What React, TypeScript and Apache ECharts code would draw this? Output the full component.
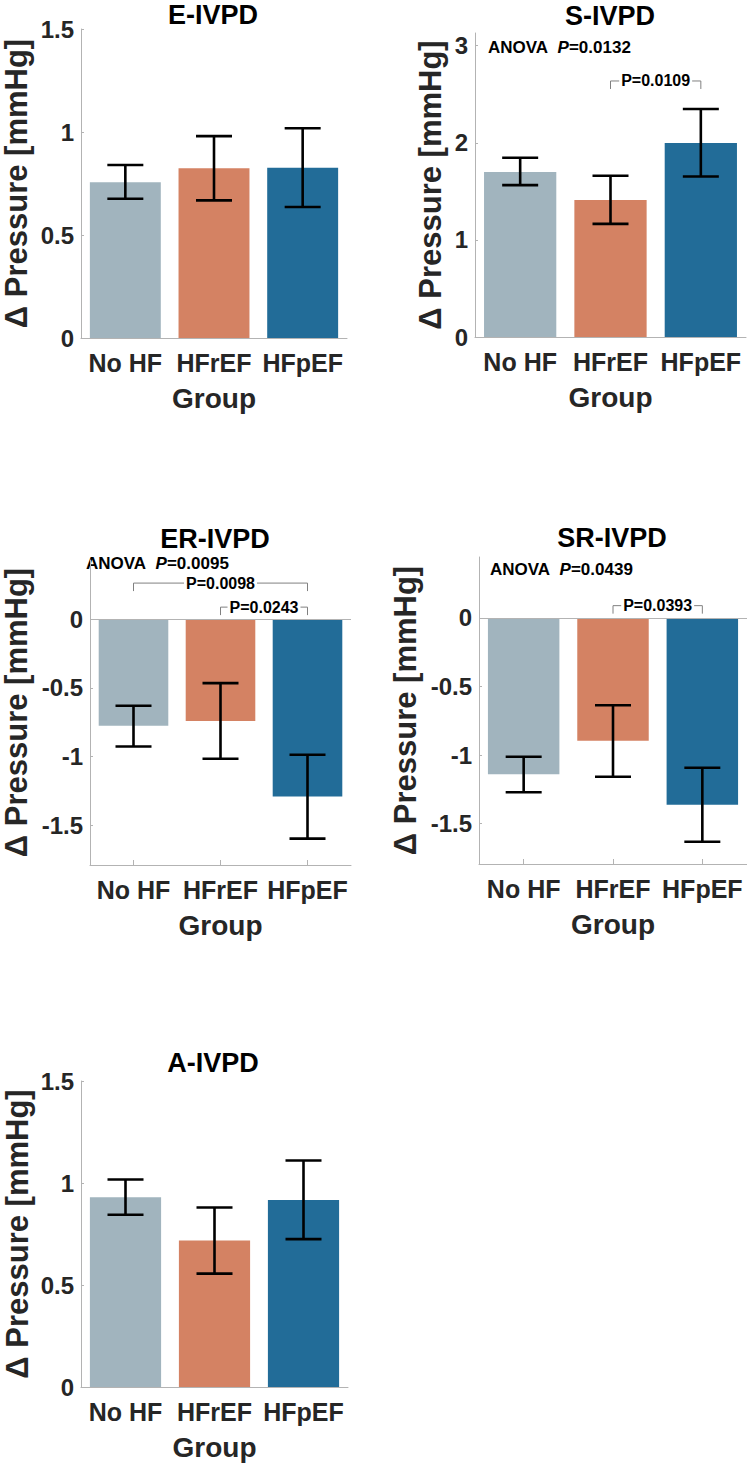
import React, { useEffect, useRef } from "react";
import * as echarts from "echarts";

const FONT = '"Liberation Sans", Arial, Helvetica, sans-serif';

const CATEGORIES = ["No HF", "HFrEF", "HFpEF"];
const COLORS = ["#a1b4be", "#d48263", "#226c98"];

// E-IVPD
const E_MEAN = [0.756, 0.824, 0.827];
const E_LOW = [0.676, 0.668, 0.636];
const E_HIGH = [0.84, 0.98, 1.018];
const E_TICKS = [0, 0.5, 1, 1.5];
const E_RANGE = [0, 1.5];

// S-IVPD
const S_MEAN = [1.7, 1.41, 1.997];
const S_LOW = [1.564, 1.165, 1.653];
const S_HIGH = [1.845, 1.66, 2.347];
const S_TICKS = [0, 1, 2, 3];
const S_RANGE = [0, 3.13];
const S_BRACKETS = [[1, 2, 2.636]];
const S_BRACKET_LABELS = ["P=0.0109"];

// ER-IVPD
const ER_MEAN = [-0.777, -0.741, -1.292];
const ER_LOW = [-0.928, -1.017, -1.598];
const ER_HIGH = [-0.631, -0.466, -0.988];
const ER_TICKS = [-1.5, -1, -0.5, 0];
const ER_RANGE = [-1.79, 0.43];
const ER_BRACKETS = [
  [0, 2, 0.262],
  [1, 2, 0.087],
];
const ER_BRACKET_LABELS = ["P=0.0098", "P=0.0243"];

// SR-IVPD
const SR_MEAN = [-1.141, -0.896, -1.363];
const SR_LOW = [-1.272, -1.158, -1.633];
const SR_HIGH = [-1.012, -0.637, -1.093];
const SR_TICKS = [-1.5, -1, -0.5, 0];
const SR_RANGE = [-1.795, 0.445];
const SR_BRACKETS = [[1, 2, 0.09]];
const SR_BRACKET_LABELS = ["P=0.0393"];

// A-IVPD
const A_MEAN = [0.93, 0.718, 0.917];
const A_LOW = [0.844, 0.556, 0.725];
const A_HIGH = [1.017, 0.88, 1.11];
const A_TICKS = [0, 0.5, 1, 1.5];
const A_RANGE = [0, 1.5];

const ANOVA_LABELS = ["", "0.0132", "0.0095", "0.0439", ""];

const AXIS_GREY = "#b3b3b3";
const TEXT_DARK = "#262626";

type Panel = {
  title: string;
  mean: number[];
  low: number[];
  high: number[];
  ticks: number[];
  range: number[];
  brackets: number[][];
  bracketLabels: string[];
  grid: { left: number; top: number; width: number; height: number };
  titlePos: [number, number];
  anovaPos: [number, number] | null;
  yNameGap: number;
};

const PANELS: Panel[] = [
  {
    title: "E-IVPD", mean: E_MEAN, low: E_LOW, high: E_HIGH, ticks: E_TICKS, range: E_RANGE,
    brackets: [], bracketLabels: [],
    grid: { left: 80, top: 29, width: 267, height: 309 },
    titlePos: [213, 15], anovaPos: null, yNameGap: 49,
  },
  {
    title: "S-IVPD", mean: S_MEAN, low: S_LOW, high: S_HIGH, ticks: S_TICKS, range: S_RANGE,
    brackets: S_BRACKETS, bracketLabels: S_BRACKET_LABELS,
    grid: { left: 475, top: 33, width: 271, height: 304 },
    titlePos: [610, 16], anovaPos: [488, 47], yNameGap: 29,
  },
  {
    title: "ER-IVPD", mean: ER_MEAN, low: ER_LOW, high: ER_HIGH, ticks: ER_TICKS, range: ER_RANGE,
    brackets: ER_BRACKETS, bracketLabels: ER_BRACKET_LABELS,
    grid: { left: 81, top: 560, width: 270, height: 305 },
    titlePos: [215, 539], anovaPos: [86, 563], yNameGap: 58,
  },
  {
    title: "SR-IVPD", mean: SR_MEAN, low: SR_LOW, high: SR_HIGH, ticks: SR_TICKS, range: SR_RANGE,
    brackets: SR_BRACKETS, bracketLabels: SR_BRACKET_LABELS,
    grid: { left: 479, top: 557, width: 268, height: 307 },
    titlePos: [612, 538], anovaPos: [490, 569], yNameGap: 58,
  },
  {
    title: "A-IVPD", mean: A_MEAN, low: A_LOW, high: A_HIGH, ticks: A_TICKS, range: A_RANGE,
    brackets: [], bracketLabels: [],
    grid: { left: 81, top: 1081, width: 267, height: 306 },
    titlePos: [213, 1063], anovaPos: null, yNameGap: 48,
  },
];

function buildOption() {
  const grid: any[] = [];
  const xAxis: any[] = [];
  const yAxis: any[] = [];
  const series: any[] = [];
  const graphic: any[] = [];

  PANELS.forEach((p, i) => {
    grid.push({ ...p.grid, containLabel: false });
    xAxis.push({
      type: "category",
      gridIndex: i,
      data: CATEGORIES,
      boundaryGap: true,
      axisLine: { show: true, onZero: false, lineStyle: { color: AXIS_GREY, width: 1 } },
      axisTick: { show: true, inside: true, length: 5, alignWithLabel: true, lineStyle: { color: AXIS_GREY } },
      axisLabel: {
        interval: 0, fontSize: 25, fontWeight: "bold", color: TEXT_DARK, fontFamily: FONT, margin: 12,
      },
      splitLine: { show: false },
      name: "Group",
      nameLocation: "middle",
      nameGap: 46,
      nameTextStyle: { fontSize: 28, fontWeight: "bold", color: TEXT_DARK, fontFamily: FONT },
    });
    yAxis.push({
      type: "value",
      gridIndex: i,
      min: p.range[0],
      max: p.range[1],
      axisLine: { show: true, lineStyle: { color: AXIS_GREY, width: 1 } },
      axisTick: { show: true, inside: true, length: 3, customValues: p.ticks, lineStyle: { color: AXIS_GREY } },
      axisLabel: {
        customValues: p.ticks, fontSize: 24, fontWeight: "bold", color: TEXT_DARK, fontFamily: FONT, margin: 7,
      },
      splitLine: { show: false },
      name: "Δ Pressure [mmHg]",
      nameLocation: "middle",
      nameGap: p.yNameGap,
      nameTextStyle: { fontSize: 31, fontWeight: "bold", color: TEXT_DARK, fontFamily: FONT },
    });

    const hasNeg = p.range[0] < 0;
    series.push({
      type: "bar",
      xAxisIndex: i,
      yAxisIndex: i,
      barWidth: "80%",
      silent: true,
      data: p.mean.map((v, j) => ({ value: v, itemStyle: { color: COLORS[j] } })),
      markLine: hasNeg
        ? {
            silent: true,
            symbol: "none",
            label: { show: false },
            lineStyle: { color: AXIS_GREY, width: 1, type: "solid" },
            data: [{ yAxis: 0 }],
          }
        : undefined,
    });

    series.push({
      type: "custom",
      xAxisIndex: i,
      yAxisIndex: i,
      silent: true,
      z: 5,
      data: CATEGORIES.map((_, j) => [j, p.low[j], p.high[j]]),
      encode: { x: 0, y: [1, 2] },
      renderItem: (params: any, api: any) => {
        const x = api.value(0);
        const lo = api.coord([x, api.value(1)]);
        const hi = api.coord([x, api.value(2)]);
        const hw = 18;
        const st = { stroke: "#000", lineWidth: 2.6 };
        return {
          type: "group",
          children: [
            { type: "line", shape: { x1: lo[0], y1: lo[1], x2: hi[0], y2: hi[1] }, style: st },
            { type: "line", shape: { x1: lo[0] - hw, y1: lo[1], x2: lo[0] + hw, y2: lo[1] }, style: st },
            { type: "line", shape: { x1: hi[0] - hw, y1: hi[1], x2: hi[0] + hw, y2: hi[1] }, style: st },
          ],
        };
      },
    });

    if (p.brackets.length) {
      const labels = p.bracketLabels;
      series.push({
        type: "custom",
        xAxisIndex: i,
        yAxisIndex: i,
        silent: true,
        z: 6,
        clip: false,
        data: p.brackets,
        encode: { x: [0, 1], y: 2 },
        renderItem: (params: any, api: any) => {
          const y = api.value(2);
          const a = api.coord([api.value(0), y]);
          const b = api.coord([api.value(1), y]);
          const tick = 8;
          return {
            type: "group",
            children: [
              {
                type: "polyline",
                shape: { points: [[a[0], a[1] + tick], [a[0], a[1]], [b[0], b[1]], [b[0], b[1] + tick]] },
                style: { stroke: "#808080", lineWidth: 1, fill: null },
              },
              {
                type: "text",
                x: (a[0] + b[0]) / 2,
                y: a[1],
                style: {
                  text: labels[params.dataIndex],
                  fill: "#000",
                  font: `bold 16px ${FONT}`,
                  align: "center",
                  verticalAlign: "middle",
                  backgroundColor: "#fff",
                  padding: [0, 2],
                },
              },
            ],
          };
        },
      });
    }

    graphic.push({
      type: "text",
      x: p.titlePos[0],
      y: p.titlePos[1],
      style: {
        text: p.title,
        fill: "#000",
        font: `bold 27px ${FONT}`,
        align: "center",
        verticalAlign: "middle",
      },
    });

    if (p.anovaPos) {
      graphic.push({
        type: "text",
        x: p.anovaPos[0],
        y: p.anovaPos[1],
        style: {
          text: `{a|ANOVA  }{i|P}{a|=${ANOVA_LABELS[i]}}`,
          align: "left",
          verticalAlign: "middle",
          rich: {
            a: { fontSize: 17, fontWeight: "bold", fontFamily: FONT, fill: "#000" },
            i: { fontSize: 17, fontWeight: "bold", fontStyle: "italic", fontFamily: FONT, fill: "#000" },
          },
        },
      });
    }
  });

  return {
    animation: false,
    backgroundColor: "#fff",
    grid,
    xAxis,
    yAxis,
    series,
    graphic,
  };
}

export default function App() {
  const ref = useRef<HTMLDivElement>(null);
  useEffect(() => {
    if (!ref.current) return;
    const chart = echarts.init(ref.current, undefined, { renderer: "svg" });
    chart.setOption(buildOption() as any);
    return () => chart.dispose();
  }, []);
  return (
    <div
      ref={ref}
      style={{ position: "absolute", left: 0, top: 0, width: 747, height: 1465, background: "#fff" }}
    />
  );
}
